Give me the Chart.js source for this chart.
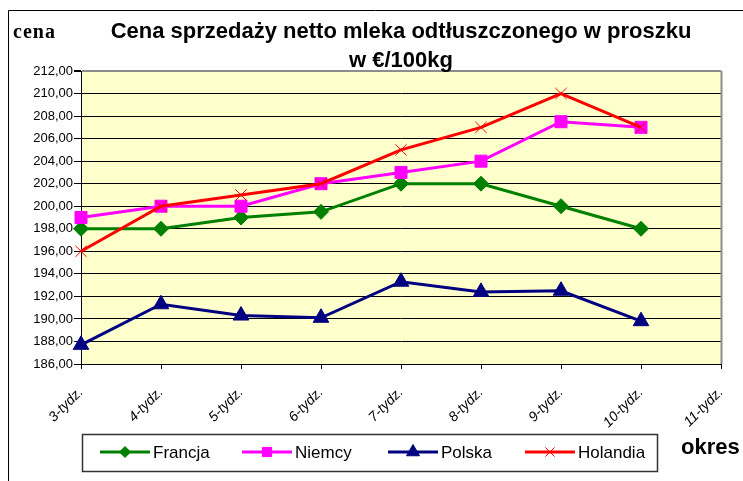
<!DOCTYPE html>
<html>
<head>
<meta charset="utf-8">
<title>Cena sprzedaży netto mleka odtłuszczonego w proszku</title>
<script src="https://cdn.jsdelivr.net/npm/chart.js@4.4.1/dist/chart.umd.min.js"></script>
<style>
  html, body { margin: 0; padding: 0; background: #fff; }
  #wrap { width: 743px; height: 481px; }
</style>
</head>
<body>
<div id="wrap"><canvas id="milkChart" width="743" height="481"></canvas></div>
<script>
// categories (weeks); the last one has no data yet
const WEEKS = ["3-tydz.", "4-tydz.", "5-tydz.", "6-tydz.", "7-tydz.", "8-tydz.", "9-tydz.", "10-tydz.", "11-tydz."];

// prices in EUR / 100 kg
const FRANCJA  = [198.0, 198.0, 199.0, 199.5, 202.0, 202.0, 200.0, 198.0, null];
const NIEMCY   = [199.0, 200.0, 200.0, 202.0, 203.0, 204.0, 207.5, 207.0, null];
const POLSKA   = [187.7, 191.3, 190.3, 190.1, 193.3, 192.4, 192.5, 189.8, null];
const HOLANDIA = [196.0, 200.0, 201.0, 202.0, 205.0, 207.0, 210.0, 207.0, null];

const SERIES_NAMES = ["Francja", "Niemcy", "Polska", "Holandia"];

// y axis ticks
const Y_MIN = 186;
const Y_MAX = 212;
const Y_STEP = 2;

const TITLE_LINES = ["Cena sprzedaży netto mleka odtłuszczonego w proszku", "w €/100kg"];
const Y_AXIS_NAME = "cena";
const X_AXIS_NAME = "okres";

const FONT_SANS = "'Liberation Sans', Arial, sans-serif";
const FONT_SERIF = "'Liberation Serif', 'Times New Roman', serif";

/**
 * Draw background, plot frame, titles and the boxed legend
 */
const decorPlugin = {
    id: "decor",
    beforeDraw(chart) {
        const ctx = chart.ctx;
        const a = chart.chartArea;
        ctx.save();
        ctx.fillStyle = "#ffffff";
        ctx.fillRect(0, 0, chart.width, chart.height);
        ctx.fillStyle = "#ffffcc";
        ctx.fillRect(a.left, a.top, a.right - a.left, a.bottom - a.top);
        ctx.restore();
    },
    beforeDatasetsDraw(chart) {
        const ctx = chart.ctx;
        const a = chart.chartArea;
        // grey right edge of the plot area
        ctx.save();
        ctx.strokeStyle = "#8c8c8c";
        ctx.lineWidth = 2;
        ctx.beginPath();
        ctx.moveTo(a.right + 0.5, a.top);
        ctx.lineTo(a.right + 0.5, a.bottom);
        ctx.stroke();
        ctx.restore();
    },
    afterDraw(chart) {
        const ctx = chart.ctx;
        const a = chart.chartArea;
        const midX = (a.left + a.right) / 2;
        ctx.save();

        // outer frame (top and left only are visible)
        ctx.strokeStyle = "#000000";
        ctx.lineWidth = 1;
        ctx.beginPath();
        ctx.moveTo(8.5, chart.height);
        ctx.lineTo(8.5, 10.5);
        ctx.lineTo(chart.width, 10.5);
        ctx.stroke();

        // title
        ctx.fillStyle = "#000000";
        ctx.textAlign = "center";
        ctx.textBaseline = "alphabetic";
        ctx.font = "bold 22px " + FONT_SANS;
        ctx.fillText(TITLE_LINES[0], midX, 38);
        ctx.fillText(TITLE_LINES[1], midX, 67);

        // axis names
        ctx.textAlign = "left";
        ctx.font = "bold 20px " + FONT_SERIF;
        ctx.letterSpacing = "1px";
        ctx.fillText(Y_AXIS_NAME, 13, 38);
        ctx.letterSpacing = "0px";
        ctx.font = "bold 22px " + FONT_SANS;
        ctx.fillText(X_AXIS_NAME, 681, 454);

        // legend box
        ctx.strokeStyle = "#333333";
        ctx.lineWidth = 1.5;
        ctx.strokeRect(82.5, 434.5, 575, 37);

        const itemX = [100, 242, 388, 525];
        const y = 452;
        const markerSize = [5.5, 6.5, 7.5, 6.5];
        chart.data.datasets.forEach(function (ds, i) {
            const x = itemX[i];
            ctx.strokeStyle = ds.borderColor;
            ctx.lineWidth = 3;
            ctx.beginPath();
            ctx.moveTo(x, y);
            ctx.lineTo(x + 50, y);
            ctx.stroke();

            ctx.fillStyle = ds.pointBackgroundColor;
            ctx.strokeStyle = ds.pointBorderColor;
            ctx.lineWidth = ds.pointBorderWidth;
            Chart.helpers.drawPoint(ctx, {
                pointStyle: ds.pointStyle,
                radius: markerSize[i],
                rotation: 0,
                borderWidth: ds.pointBorderWidth
            }, x + 25, y);

            ctx.fillStyle = "#000000";
            ctx.font = "17px " + FONT_SANS;
            ctx.textBaseline = "middle";
            ctx.fillText(ds.label, x + 53, y + 1);
        });

        ctx.restore();
    }
};

function makeSeries(label, values, color, style, radius, pointBorder, order) {
    return {
        label: label,
        data: values,
        borderColor: color,
        backgroundColor: color,
        pointBackgroundColor: color,
        pointBorderColor: color,
        pointStyle: style,
        pointRadius: radius,
        pointHoverRadius: radius,
        pointBorderWidth: pointBorder,
        borderWidth: 3,
        tension: 0,
        fill: false,
        order: order
    };
}

function formatPrice(value) {
    return value.toFixed(2).replace(".", ",");
}

const config = {
    type: "line",
    data: {
        labels: WEEKS,
        datasets: [
            makeSeries(SERIES_NAMES[0], FRANCJA, "#008000", "rectRot", 7.5, 1, 3),
            makeSeries(SERIES_NAMES[1], NIEMCY, "#ff00ff", "rect", 8.5, 1, 2),
            makeSeries(SERIES_NAMES[2], POLSKA, "#000080", "triangle", 9, 1, 1),
            makeSeries(SERIES_NAMES[3], HOLANDIA, "#ff0000", "crossRot", 8, 1, 0)
        ]
    },
    options: {
        responsive: false,
        animation: false,
        devicePixelRatio: 1,
        layout: {
            padding: { top: 71, right: 22, bottom: 0, left: 0 }
        },
        plugins: {
            legend: { display: false },
            title: { display: false },
            tooltip: { enabled: false }
        },
        scales: {
            x: {
                type: "category",
                offset: false,
                afterFit: function (scale) {
                    scale.height = 117;
                    // rotated labels hang to the left only, keep the plot edge fixed
                    scale.paddingRight = 0;
                },
                grid: {
                    drawOnChartArea: false,
                    drawTicks: true,
                    tickLength: 5,
                    color: "#000000"
                },
                border: { display: true, color: "#000000", width: 1 },
                ticks: {
                    autoSkip: false,
                    maxRotation: 45,
                    minRotation: 45,
                    padding: 15,
                    color: "#000000",
                    font: { family: FONT_SANS, size: 14, style: "italic" }
                }
            },
            y: {
                min: Y_MIN,
                max: Y_MAX,
                afterFit: function (scale) { scale.width = 81; },
                grid: {
                    color: function (c) {
                        return c.tick && c.tick.value === Y_MAX ? "#8c8c8c" : "#000000";
                    },
                    lineWidth: function (c) {
                        return c.tick && c.tick.value === Y_MAX ? 2 : 1;
                    },
                    tickColor: "#000000",
                    tickLength: 7
                },
                border: { display: true, color: "#000000", width: 1 },
                ticks: {
                    stepSize: Y_STEP,
                    padding: 1,
                    color: "#000000",
                    font: { family: FONT_SANS, size: 13 },
                    callback: function (value) { return formatPrice(value); }
                }
            }
        }
    },
    plugins: [decorPlugin]
};

new Chart(document.getElementById("milkChart").getContext("2d"), config);
</script>
</body>
</html>
